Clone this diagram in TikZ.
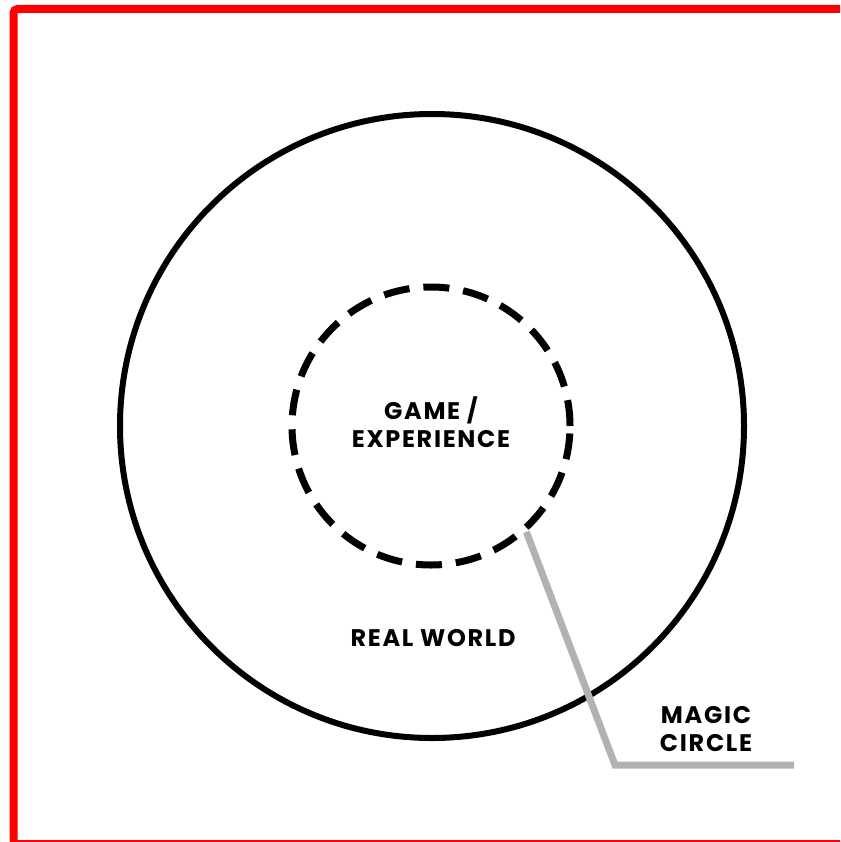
\documentclass[tikz,border=0pt]{standalone}
\usepackage{fontspec}
\setmainfont{Poppins}[LetterSpace=7]
\begin{document}
\begin{tikzpicture}[x=1pt,y=-1pt,
  lbl/.style={font=\fontsize{24}{28}\selectfont\bfseries, align=center, text=black, inner sep=0pt},
  outer/.style={draw=black, line width=6pt},
  magic/.style={draw=black, line width=7pt, dash pattern=on 26pt off 14pt},
  pointer/.style={draw=black!30, line width=7pt}]
\useasboundingbox (0,0) rectangle (840,842);
\clip (0,0) rectangle (840,842);
\fill[white] (0,0) rectangle (840,842);
\draw[red, line width=8pt, rounded corners=4pt] (13.5,9) -- (850,9) -- (850,844) -- (13.5,844) -- cycle;
\node[circle, outer, minimum size=624pt, inner sep=0pt] (world) at (432,426) {};
\node[circle, magic, minimum size=278pt, inner sep=0pt] (game) at (431,426) {};
\node[lbl] (gamelbl) at (431,422) {GAME /\\EXPERIENCE};
\node[lbl] (reallbl) at (433,638) {REAL WORLD};
\node[lbl] (magiclbl) at (706,729) {MAGIC\\CIRCLE};
\coordinate (bend) at (615,765);
\coordinate (tail) at (794,765);
\draw[pointer] (game.-48) -- (bend) -- (tail);
\end{tikzpicture}
\end{document}
